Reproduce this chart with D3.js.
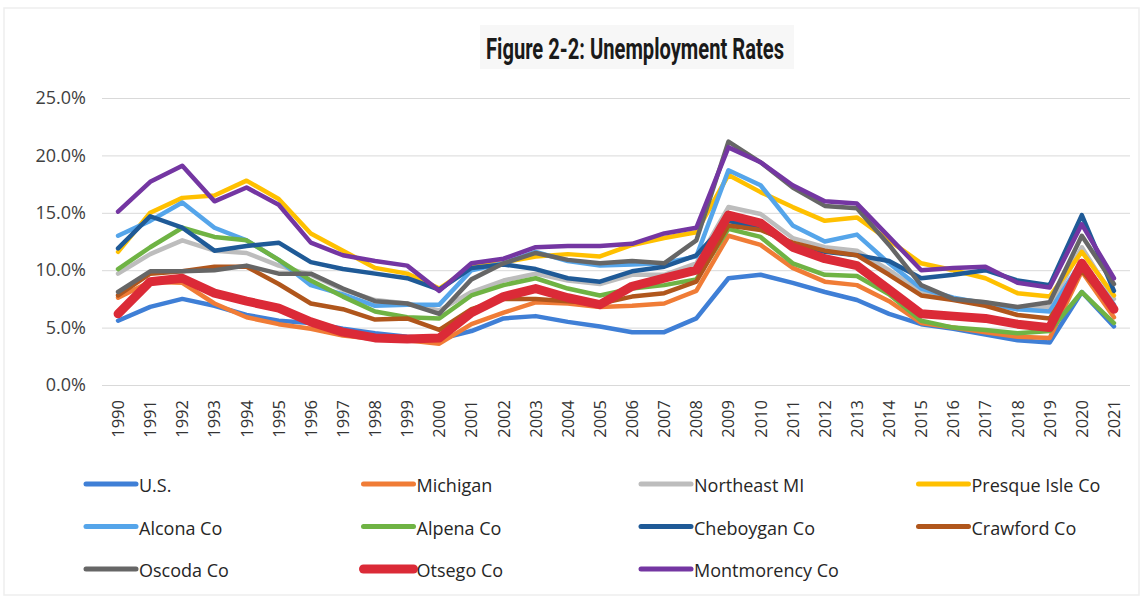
<!DOCTYPE html>
<html>
<head>
<meta charset="utf-8">
<script src="https://cdn.jsdelivr.net/npm/d3@7"></script>
<style>
  body { margin: 0; background: #fff; }
  svg { display: block; }
</style>
</head>
<body>
<svg id="chart"></svg>
<script>
// years on the x axis
const years = d3.range(1990, 2022).map(String);

// series names, in legend order
const seriesNames = [
  "U.S.", "Michigan", "Northeast MI", "Presque Isle Co",
  "Alcona Co", "Alpena Co", "Cheboygan Co", "Crawford Co",
  "Oscoda Co", "Otsego Co", "Montmorency Co"
];

// unemployment rate (%) 1990-2021
const usRate = [5.6,6.8,7.5,6.9,6.1,5.6,5.4,4.9,4.5,4.2,4.0,4.7,5.8,6.0,5.5,5.1,4.6,4.6,5.8,9.3,9.6,8.9,8.1,7.4,6.2,5.3,4.9,4.4,3.9,3.7,8.1,5.1];
const michiganRate = [7.6,9.0,8.9,7.1,5.9,5.3,4.9,4.3,4.0,3.9,3.6,5.3,6.3,7.2,7.1,6.8,6.9,7.1,8.2,13.0,12.2,10.2,9.0,8.7,7.3,5.4,5.0,4.6,4.2,4.1,9.9,5.9];
const northeastRate = [9.7,11.4,12.6,11.7,11.5,10.4,9.6,8.3,7.4,7.1,6.5,8.1,9.1,9.7,9.1,8.8,9.6,9.6,10.6,15.5,14.9,12.8,12.0,11.7,10.0,8.1,7.5,7.2,6.6,6.8,12.0,7.5];
const presqueIsleRate = [11.6,15.0,16.3,16.5,17.8,16.2,13.2,11.7,10.2,9.7,8.4,10.3,10.7,11.2,11.4,11.2,12.2,12.8,13.3,18.3,16.8,15.5,14.3,14.6,12.6,10.6,10.0,9.3,8.0,7.7,11.6,7.8];
const alconaRate = [13.0,14.3,15.9,13.7,12.6,10.9,8.7,7.9,6.9,7.0,7.0,10.0,10.6,11.6,10.8,10.4,10.5,10.6,11.2,18.7,17.4,13.9,12.5,13.1,10.6,8.4,7.6,7.1,6.6,6.4,10.8,7.0];
const alpenaRate = [10.1,12.0,13.7,12.9,12.6,10.9,9.1,7.7,6.4,5.9,5.8,7.8,8.7,9.3,8.4,7.8,8.4,8.7,9.2,13.6,12.9,10.6,9.6,9.5,7.9,5.6,5.0,4.8,4.5,4.7,8.1,5.4];
const cheboyganRate = [11.9,14.7,13.7,11.7,12.1,12.4,10.7,10.1,9.7,9.3,8.3,10.2,10.5,10.1,9.3,9.0,9.9,10.3,11.3,14.3,13.6,12.2,11.6,11.3,10.8,9.3,9.6,10.0,9.1,8.7,14.8,8.2];
const crawfordRate = [7.8,9.7,9.9,10.3,10.3,8.8,7.1,6.6,5.7,5.8,4.8,6.6,7.5,7.5,7.3,7.1,7.7,8.0,9.0,13.9,13.5,12.4,11.7,11.3,9.6,7.8,7.4,6.9,6.1,5.8,10.0,6.6];
const oscodaRate = [8.1,9.9,9.9,10.0,10.4,9.7,9.7,8.4,7.3,7.1,6.2,9.2,10.6,11.5,10.9,10.6,10.8,10.6,12.6,21.2,19.4,17.2,15.6,15.4,12.2,8.7,7.5,7.2,6.8,7.2,13.0,8.8];
const otsegoRate = [6.2,9.0,9.3,8.0,7.3,6.7,5.5,4.6,4.1,4.0,4.1,6.3,7.7,8.4,7.6,7.0,8.6,9.3,10.0,14.8,14.1,12.0,11.0,10.4,8.3,6.2,6.0,5.8,5.3,5.0,10.6,6.6];
const montmorencyRate = [15.1,17.7,19.1,16.0,17.2,15.7,12.4,11.3,10.8,10.4,8.2,10.6,11.0,12.0,12.1,12.1,12.3,13.2,13.7,20.7,19.4,17.4,16.0,15.8,12.9,10.0,10.2,10.3,8.9,8.5,14.0,9.3];

// y axis ticks
const yTicks = [0, 5, 10, 15, 20, 25];

const seriesValues = [
  usRate, michiganRate, northeastRate, presqueIsleRate,
  alconaRate, alpenaRate, cheboyganRate, crawfordRate,
  oscodaRate, otsegoRate, montmorencyRate
];

const colors = [
  "#3f7fd6", "#f07c36", "#bdbdbd", "#ffc000",
  "#55a5ea", "#6fb344", "#1f5a97", "#b0561c",
  "#666666", "#db2a37", "#7436a2"
];

const W = 1143, H = 599;
const margin = { top: 98, right: 13, bottom: 214, left: 102 };
const width = W - margin.left - margin.right;
const height = H - margin.top - margin.bottom;

const svg = d3.select("#chart").attr("width", W).attr("height", H);

// faint frame from the scanned page
svg.append("rect")
  .attr("x", 4).attr("y", 8)
  .attr("width", W - 8).attr("height", H - 12)
  .attr("fill", "none")
  .attr("stroke", "#eeeeee")
  .attr("stroke-width", 1.5);

// title with its light grey backing
svg.append("rect")
  .attr("x", 480).attr("y", 25)
  .attr("width", 314).attr("height", 44)
  .attr("fill", "#f7f7f7");

const title = svg.append("text")
  .attr("x", 635)
  .attr("y", 59)
  .attr("text-anchor", "middle")
  .style("font-family", "'Liberation Sans Narrow', Roboto, sans-serif")
  .style("font-weight", "700")
  .style("font-size", "30px")
  .style("fill", "#1a1a1a")
  .text("Figure 2-2: Unemployment Rates");

// squeeze the title into the width it takes in the picture
title.each(function () {
  const w = this.getComputedTextLength();
  if (w > 298) {
    d3.select(this).attr("textLength", 298).attr("lengthAdjust", "spacingAndGlyphs");
  }
});

const g = svg.append("g")
  .attr("transform", `translate(${margin.left},${margin.top})`);

const x = d3.scaleBand()
  .domain(years)
  .range([0, width])
  .padding(0);

const y = d3.scaleLinear()
  .domain([0, 25])
  .range([height, 0]);

// gridlines + y labels
const yAxis = g.append("g")
  .call(d3.axisLeft(y)
    .tickValues(yTicks)
    .tickSize(-width)
    .tickPadding(16)
    .tickFormat((d) => d.toFixed(1) + "%"));
yAxis.select(".domain").remove();
yAxis.selectAll(".tick line")
  .attr("stroke", "#d9d9d9")
  .attr("stroke-width", 1);
yAxis.selectAll(".tick text")
  .style("font-family", "'Open Sans', sans-serif")
  .style("font-size", "18px")
  .style("fill", "#404040");

// x labels, rotated
const xAxis = g.append("g")
  .attr("transform", `translate(0,${height})`)
  .call(d3.axisBottom(x).tickSize(0));
xAxis.select(".domain").remove();
xAxis.selectAll(".tick text")
  .attr("transform", "rotate(-90)")
  .attr("text-anchor", "end")
  .attr("x", -15)
  .attr("y", 0)
  .attr("dy", "0.36em")
  .style("font-family", "'Open Sans', sans-serif")
  .style("font-size", "16.5px")
  .style("fill", "#333333");

// lines
const line = d3.line()
  .x((d, i) => x(years[i]) + x.bandwidth() / 2)
  .y((d) => y(d));

seriesValues.forEach((vals, i) => {
  g.append("path")
    .datum(vals)
    .attr("d", line)
    .attr("fill", "none")
    .attr("stroke", colors[i])
    .attr("stroke-width", seriesNames[i] === "Otsego Co" ? 9 : 4.5)
    .attr("stroke-linejoin", "round")
    .attr("stroke-linecap", "round");
});

// legend, 4 per row
const legend = svg.append("g");
seriesNames.forEach((name, i) => {
  const col = i % 4;
  const row = Math.floor(i / 4);
  const lx = 86 + col * 277.5;
  const ly = 484 + row * 42.5;
  const item = legend.append("g").attr("transform", `translate(${lx},${ly})`);
  item.append("line")
    .attr("x1", 0).attr("x2", 50)
    .attr("y1", 0).attr("y2", 0)
    .attr("stroke", colors[i])
    .attr("stroke-width", name === "Otsego Co" ? 9 : 5)
    .attr("stroke-linecap", "round");
  item.append("text")
    .attr("x", 53)
    .attr("y", 8)
    .style("font-family", "'Open Sans', sans-serif")
    .style("font-size", "18px")
    .style("fill", "#262626")
    .text(name);
});
</script>
</body>
</html>
